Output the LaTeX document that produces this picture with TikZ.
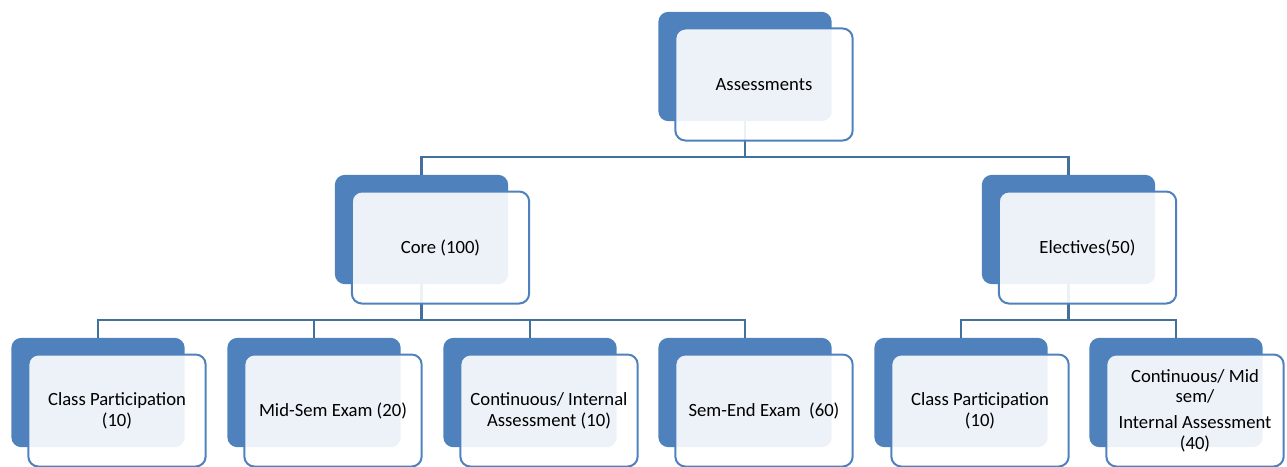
\documentclass[tikz,border=0pt]{standalone}
\usepackage{fontspec}
\setmainfont{Carlito}
\usetikzlibrary{positioning}
\definecolor{boxblue}{HTML}{4F81BD}
\definecolor{linkblue}{HTML}{41719C}

\begin{document}
\begin{tikzpicture}[x=0.75pt,y=-0.75pt,
  back/.style={fill=boxblue, rounded corners=7.5pt, minimum width=130pt, minimum height=82pt, inner sep=0pt},
  front/.style={draw=boxblue, line width=1.5pt, fill=white, fill opacity=0.9, text opacity=1,
    rounded corners=7.5pt, minimum width=133pt, minimum height=84pt, inner sep=2pt, align=center,
    font=\fontsize{14}{15.5}\selectfont},
  link/.style={draw=linkblue, line width=1.6pt}]
\useasboundingbox (0,0) rectangle (1287,467);
% back boxes
\node[back] (A) at (745,66.5) {};
\node[back] (core) at (421.5,229.5) {};
\node[back] (elec) at (1068.5,229.5) {};
\foreach \i/\x in {1/98,2/314,3/530,4/745,5/961,6/1176}{\node[back] (b\i) at (\x,392.5) {};}
% connectors
\coordinate (topbus) at (0,157);
\coordinate (lowbus) at (0,320);
\draw[link] (A.south) -- (A.south |- topbus);
\draw[link] (core.north) |- (elec.north |- topbus) -- (elec.north);
\draw[link] (core.south) -- (core.south |- lowbus);
\draw[link] (b1.north) |- (b4.north |- lowbus) -- (b4.north);
\foreach \i in {2,3}{\draw[link] (b\i.north) -- (b\i.north |- lowbus);}
\draw[link] (elec.south) -- (elec.south |- lowbus);
\draw[link] (b5.north) |- (b6.north |- lowbus) -- (b6.north);
% front boxes
\node[front] (Af) at ([shift={(19,18)}]A) {Assessments};
\node[front] (coref) at ([shift={(19,18)}]core) {Core (100)};
\node[front] (elecf) at ([shift={(19,18)}]elec) {Electives(50)};
\node[front] (b1f) at ([shift={(19,18)}]b1) {Class Participation\\(10)};
\node[front] (b2f) at ([shift={(19,18)}]b2) {Mid-Sem Exam (20)};
\node[front] (b3f) at ([shift={(19,18)}]b3) {Continuous/ Internal\\Assessment (10)};
\node[front] (b4f) at ([shift={(19,18)}]b4) {Sem-End Exam~ (60)};
\node[front] (b5f) at ([shift={(19,18)}]b5) {Class Participation\\(10)};
\node[front] (b6f) at ([shift={(19,18)}]b6) {Continuous/ Mid\\sem/\\[4pt]Internal Assessment\\(40)};
\end{tikzpicture}
\end{document}
